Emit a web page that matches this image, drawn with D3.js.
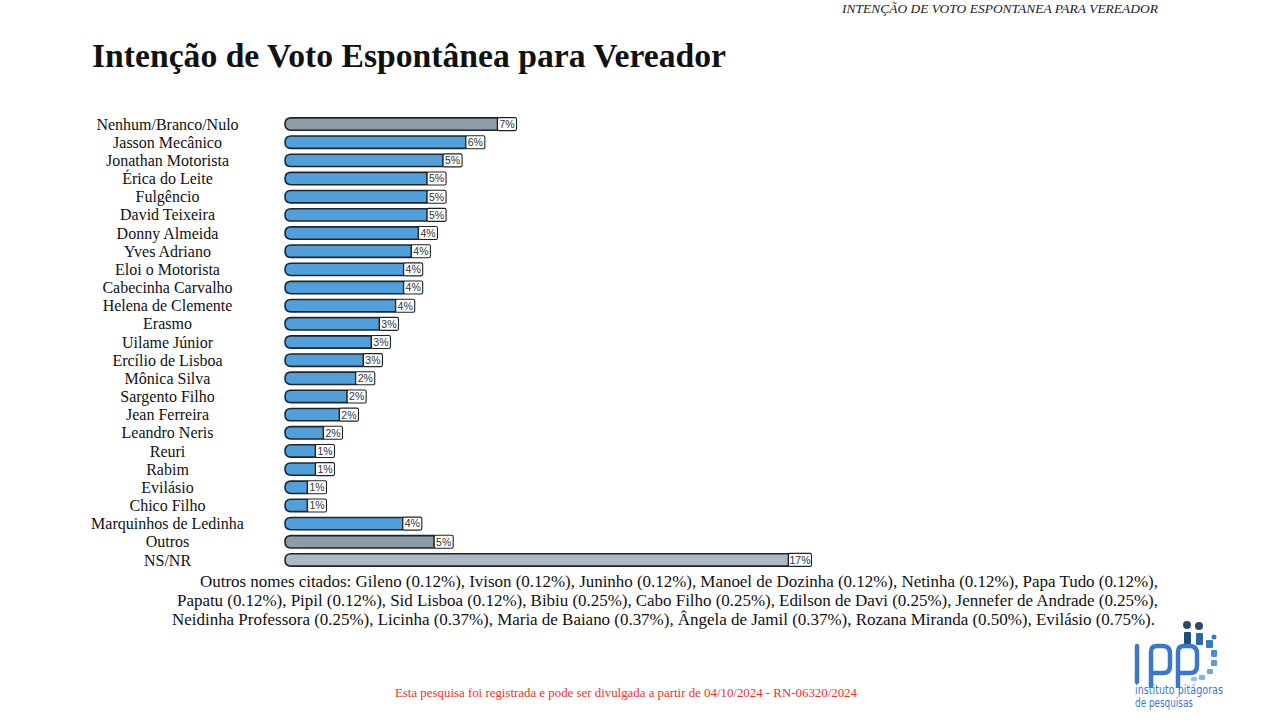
<!DOCTYPE html>
<html><head><meta charset="utf-8">
<script src="https://cdn.jsdelivr.net/npm/d3@7/dist/d3.min.js"></script>
<style>html,body{margin:0;padding:0;background:#fff;}svg{display:block;}</style>
</head><body>
<script>
const categories = ["Nenhum/Branco/Nulo","Jasson Mecânico","Jonathan Motorista","Érica do Leite","Fulgêncio","David Teixeira","Donny Almeida","Yves Adriano","Eloi o Motorista","Cabecinha Carvalho","Helena de Clemente","Erasmo","Uilame Júnior","Ercílio de Lisboa","Mônica Silva","Sargento Filho","Jean Ferreira","Leandro Neris","Reuri","Rabim","Evilásio","Chico Filho","Marquinhos de Ledinha","Outros","NS/NR"];
const values = [7.18,6.11,5.34,4.80,4.80,4.80,4.51,4.27,4.01,4.01,3.74,3.19,2.92,2.65,2.39,2.10,1.84,1.30,1.03,1.03,0.76,0.76,3.98,5.04,17.01];
const valueLabels = ["7%","6%","5%","5%","5%","5%","4%","4%","4%","4%","4%","3%","3%","3%","2%","2%","2%","2%","1%","1%","1%","1%","4%","5%","17%"];
const groups = ["none","cand","cand","cand","cand","cand","cand","cand","cand","cand","cand","cand","cand","cand","cand","cand","cand","cand","cand","cand","cand","cand","cand","other","nsnr"];
const otherNamesLines = [
 "Outros nomes citados: Gileno (0.12%), Ivison (0.12%), Juninho (0.12%), Manoel de Dozinha (0.12%), Netinha (0.12%), Papa Tudo (0.12%),",
 "Papatu (0.12%), Pipil (0.12%), Sid Lisboa (0.12%), Bibiu (0.25%), Cabo Filho (0.25%), Edilson de Davi (0.25%), Jennefer de Andrade (0.25%),",
 "Neidinha Professora (0.25%), Licinha (0.37%), Maria de Baiano (0.37%), Ângela de Jamil (0.37%), Rozana Miranda (0.50%), Evilásio (0.75%)."
];
const titleText = "Intenção de Voto Espontânea para Vereador";
const headerText = "INTENÇÃO DE VOTO ESPONTANEA PARA VEREADOR";
const footerText = "Esta pesquisa foi registrada e pode ser divulgada a partir de 04/10/2024 - RN-06320/2024";

const colors = {none:"#8d9ca7", cand:"#539fd9", other:"#8c9ca8", nsnr:"#adbac3"};

const svg = d3.select("body").append("svg").attr("width",1280).attr("height",720);

const serif = "'Liberation Serif','DejaVu Serif',serif";

// header
svg.append("text").attr("x",842).attr("y",13)
  .attr("textLength",316).attr("lengthAdjust","spacingAndGlyphs")
  .style("font-family",serif).style("font-style","italic").style("font-size","13px").style("fill","#222")
  .text(headerText);

// title
svg.append("text").attr("x",92).attr("y",67)
  .attr("textLength",634).attr("lengthAdjust","spacingAndGlyphs")
  .style("font-family",serif).style("font-weight","bold").style("font-size","33px").style("fill","#111")
  .text(titleText);

const y = d3.scaleBand().domain(categories).range([115,569]).paddingInner(0.32).paddingOuter(0.16);
const x = d3.scaleLinear().domain([0,17]).range([285,788.2]);

const data = categories.map((c,i)=>({c, v:values[i], l:valueLabels[i], g:groups[i]}));

// category labels
svg.append("g").selectAll("text").data(data).join("text")
  .attr("x",167.5).attr("y",d=>y(d.c)+y.bandwidth()/2).attr("dy","0.35em")
  .attr("text-anchor","middle")
  .style("font-family",serif).style("font-size","16px").style("fill","#111")
  .text(d=>d.c);

// bars
function barPath(d){
  const x0 = x(0), x1 = x(d.v), t = y(d.c), h = y.bandwidth(), b = t+h, m = t+h/2, r = 6;
  return `M${x0+r},${t} L${x1},${t} L${x1},${b} L${x0+r},${b} Q${x0},${b} ${x0},${m} Q${x0},${t} ${x0+r},${t} Z`;
}
svg.append("g").selectAll("path").data(data).join("path")
  .attr("d",barPath)
  .attr("fill",d=>colors[d.g]).attr("stroke","#1c2630").attr("stroke-width",1.6);

// value label boxes
const lab = svg.append("g").selectAll("g").data(data).join("g")
  .attr("transform",d=>`translate(${x(d.v)},${y(d.c)+y.bandwidth()/2})`);
lab.append("rect")
  .attr("x",0).attr("y",-6.5).attr("height",13)
  .attr("width",d=>d.l.length>2?23:19).attr("rx",1.5)
  .attr("fill","#fff").attr("stroke","#222").attr("stroke-width",1.1);
lab.append("text")
  .attr("x",d=>(d.l.length>2?23:19)/2).attr("dy","0.37em").attr("text-anchor","middle")
  .style("font-family","'Liberation Sans',Arial,sans-serif").style("font-size","10.5px").style("fill","#333")
  .text(d=>d.l);

// other names
const lineStarts = [200,177,172], lineEnds = [1158,1158,1155];
svg.append("g").selectAll("text").data(otherNamesLines).join("text")
  .attr("x",(d,i)=>lineStarts[i]).attr("y",(d,i)=>587+i*19)
  .attr("textLength",(d,i)=>lineEnds[i]-lineStarts[i]).attr("lengthAdjust","spacing")
  .style("font-family",serif).style("font-size","17px").style("fill","#111")
  .text(d=>d);

// footer
svg.append("text").attr("x",395).attr("y",697)
  .attr("textLength",462).attr("lengthAdjust","spacingAndGlyphs")
  .style("font-family",serif).style("font-size","12.5px").style("fill","#e8322c")
  .text(footerText);

// logo
const logo = svg.append("g").attr("transform","translate(1133,620)");
const lb = "#3d78c6";
logo.append("path").attr("d","M4,26 L4,62").attr("stroke",lb).attr("stroke-width",4.5).attr("fill","none").attr("stroke-linecap","round");
logo.append("path").attr("d","M18,68 L18,32 Q18,26 24,26 L30,26 Q37,26 37,34 L37,46 Q37,53 30,53 L19,53").attr("stroke",lb).attr("stroke-width",4.5).attr("fill","none");
logo.append("path").attr("d","M45,68 L45,32 Q45,26 51,26 L57,26 Q64,26 64,34 L64,46 Q64,53 57,53 L46,53").attr("stroke",lb).attr("stroke-width",4.5).attr("fill","none");
const dots = [[54,5,4,"#2b4a6b"],[66,6,4,"#2b4a6b"],[81,17,2.5,"#3a78c2"]];
dots.forEach(d=>logo.append("circle").attr("cx",d[0]).attr("cy",d[1]).attr("r",d[2]).attr("fill",d[3]));
const segs = [[51,12,7,12,"#1f4f7a"],[63,13,7,12,"#2a6aa3"],[73,20,7,8,"#3a78c2"],[78,30,6,7,"#4a8bd0"],[78,40,6,6,"#5a9ad8"],[74,49,6,5,"#6aa8e0"],[66,55,6,5,"#7ab5e6"],[58,57,6,4,"#8cc2ec"]];
segs.forEach(s=>logo.append("rect").attr("x",s[0]).attr("y",s[1]).attr("width",s[2]).attr("height",s[3]).attr("rx",1).attr("fill",s[4]));
logo.append("text").attr("x",2).attr("y",74).attr("textLength",88).attr("lengthAdjust","spacingAndGlyphs").style("font-family","'DejaVu Sans Condensed','Liberation Sans Narrow',sans-serif").style("font-size","11.5px").style("fill",lb).text("instituto pitágoras");
logo.append("text").attr("x",2).attr("y",87).attr("textLength",58).attr("lengthAdjust","spacingAndGlyphs").style("font-family","'DejaVu Sans Condensed','Liberation Sans Narrow',sans-serif").style("font-size","11.5px").style("fill",lb).text("de pesquisas");
</script>
</body></html>
